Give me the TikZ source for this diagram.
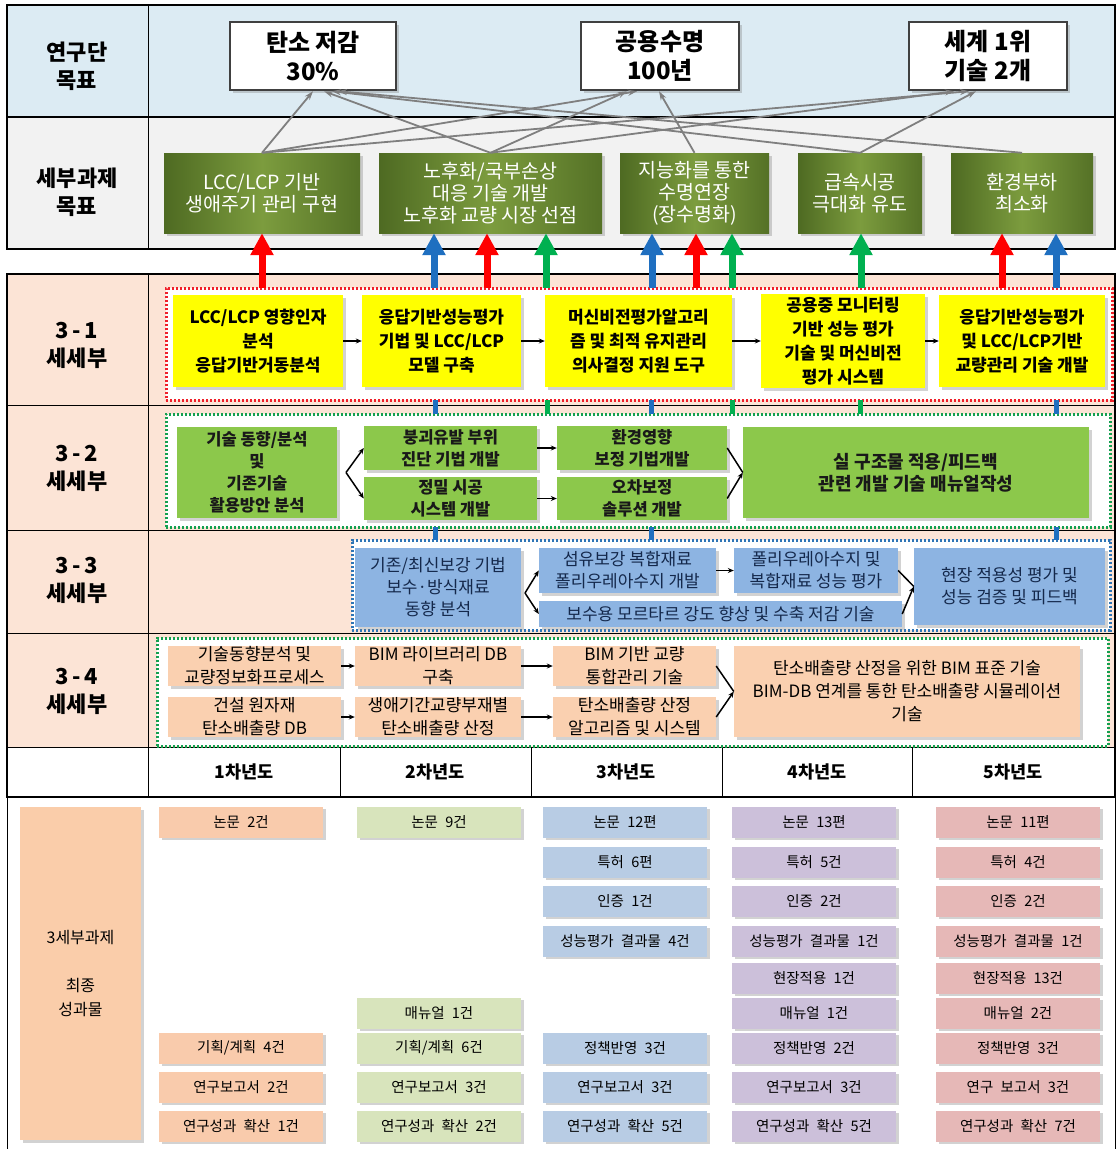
\documentclass[tikz,border=0pt]{standalone}
\usepackage{fontspec}
\setmainfont{Noto Sans CJK KR}
\usetikzlibrary{arrows.meta,shadows,calc}

\definecolor{rowblue}{HTML}{DCEBF3}
\definecolor{rowgray}{HTML}{F2F2F2}
\definecolor{rowpeach}{HTML}{FCE4D6}
\definecolor{olA}{HTML}{4E6A22}
\definecolor{olB}{HTML}{7C9C3E}
\definecolor{ylw}{HTML}{FFFF00}
\definecolor{grn32}{HTML}{8CC84B}
\definecolor{blu33}{HTML}{8DB4E2}
\definecolor{pch34}{HTML}{FAD0B0}
\definecolor{txt33}{HTML}{14284B}
\definecolor{frRed}{HTML}{F0202A}
\definecolor{frGreen}{HTML}{14A050}
\definecolor{frBlue}{HTML}{2E75B6}
\definecolor{arRed}{HTML}{FF0000}
\definecolor{arBlue}{HTML}{1F6FC0}
\definecolor{arGreen}{HTML}{00B050}
\definecolor{conGray}{HTML}{7F7F7F}
\definecolor{oc1}{HTML}{F9CBAC}
\definecolor{oc2}{HTML}{D8E4BC}
\definecolor{oc3}{HTML}{B8CCE4}
\definecolor{oc4}{HTML}{CCC0DA}
\definecolor{oc5}{HTML}{E6B8B7}
\definecolor{ocL}{HTML}{FACDAA}

\tikzset{
  shd/.style={drop shadow={shadow xshift=2.5pt,shadow yshift=-2.5pt,opacity=.35}},
  lbl/.style={font=\bfseries\fontsize{22}{28}\selectfont,align=center,inner sep=0pt},
  goalbox/.style={draw=black!75,line width=2.5pt,fill=white,align=center,inner sep=0pt,font=\bfseries\fontsize{24}{29}\selectfont,shd},
  subbox/.style={left color=olA,right color=olA!85!olB,middle color=olB,align=center,inner sep=0pt,text=white,font=\fontsize{19.5}{22}\selectfont,shd},
  ybox/.style={fill=ylw,align=center,inner sep=0pt,font=\bfseries\fontsize{17}{24}\selectfont,shd},
  gbox/.style={fill=grn32,align=center,inner sep=0pt,text=black!90,font=\bfseries\fontsize{16.5}{22}\selectfont,shd},
  bbox/.style={fill=blu33,align=center,inner sep=0pt,text=txt33,font=\fontsize{17}{22}\selectfont,shd},
  pbox/.style={fill=pch34,align=center,inner sep=0pt,text=black,font=\fontsize{17}{23}\selectfont,shd},
  obox/.style={minimum width=164pt,minimum height=31pt,inner sep=0pt,text=black,font=\fontsize{14.5}{16}\selectfont,shd},
  dotframe/.style={line width=3pt,dash pattern=on 2.4pt off 1.6pt,fill=white,inner sep=0pt,outer sep=0pt},
  bigar/.style={draw=#1,line width=7pt,-{Triangle[width=22pt,length=22pt]}},
  stub/.style={draw=#1,line width=5pt},
  garr/.style={draw=conGray,line width=1.8pt,-{Stealth[length=9pt,width=6pt]}},
  sarr/.style={draw=black,line width=1.5pt,-{Stealth[length=6pt,width=5pt]}},
  sln/.style={draw=black,line width=1.5pt},
  yl/.style={font=\bfseries\fontsize{17.5}{20}\selectfont,inner sep=0pt},
}

\begin{document}
\begin{tikzpicture}[x=1pt,y=-1pt]
\useasboundingbox (0,0) rectangle (1117,1149);
\fill[white] (0,0) rectangle (1117,1149);

% ---- table backgrounds and rules
\fill[rowblue] (7,5) rectangle (1115,117);
\fill[rowgray] (7,117) rectangle (1115,249);
\fill[rowpeach] (7,274) rectangle (1115,747);
\draw[line width=1.2pt] (7,5) rectangle (1115,249);
\draw[line width=1.2pt] (7,117) -- (1115,117);
\draw[line width=1pt] (148,5) -- (148,249);
\draw[line width=1.2pt] (7,274) rectangle (1115,797);
\foreach \yy in {405,530,633,747} \draw[line width=1pt] (7,\yy) -- (1115,\yy);
\draw[line width=1pt] (148,274) -- (148,797);
\foreach \xx in {340,531,722,912} \draw[line width=1pt] (\xx,747) -- (\xx,797);
\draw[line width=2.5pt] (7,797) -- (1115,797);
\draw[line width=1pt] (7,797) -- (7,1149);
\draw[line width=1pt] (1115,797) -- (1115,1149);

% ---- row labels
\node[lbl] (l1) at (77,66) {연구단\\목표};
\node[lbl] (l2) at (77,192) {세부과제\\목표};
\node[lbl] (l31) at (77,345) {3\,-\,1\\세세부};
\node[lbl] (l32) at (77,468) {3\,-\,2\\세세부};
\node[lbl] (l33) at (77,580) {3\,-\,3\\세세부};
\node[lbl] (l34) at (77,691) {3\,-\,4\\세세부};

% ---- goals
\node[goalbox,minimum width=166pt,minimum height=68pt] (G1) at (313,56) {탄소 저감\\30\%};
\node[goalbox,minimum width=158pt,minimum height=68pt] (G2) at (660,56) {공용수명\\100년};
\node[goalbox,minimum width=158pt,minimum height=68pt] (G3) at (988,56) {세계 1위\\기술 2개};

% ---- sub-task goals
\node[subbox,minimum width=196pt,minimum height=80pt] (B1) at (262,193) {LCC/LCP 기반\\생애주기 관리 구현};
\node[subbox,minimum width=223pt,minimum height=80pt] (B2) at (490.5,193) {노후화/국부손상\\대응 기술 개발\\노후화 교량 시장 선점};
\node[subbox,minimum width=149pt,minimum height=80pt] (B3) at (694.5,193) {지능화를 통한\\수명연장\\(장수명화)};
\node[subbox,minimum width=124pt,minimum height=80pt] (B4) at (860,193) {급속시공\\극대화 유도};
\node[subbox,minimum width=142pt,minimum height=80pt] (B5) at (1022,193) {환경부하\\최소화};

% ---- dotted frames
\node[dotframe,draw=frRed,minimum width=946pt,minimum height=112pt] (RF) at (639,344) {};
\node[dotframe,draw=frGreen,minimum width=944pt,minimum height=113pt] (GF1) at (638,470.5) {};
\node[dotframe,draw=frBlue,minimum width=758pt,minimum height=90pt] (BF) at (731,585) {};
\node[dotframe,draw=frGreen,minimum width=951pt,minimum height=108pt] (GF2) at (632.5,692) {};

% ---- 3-1
\node[ybox,minimum width=170pt,minimum height=92pt] (Y1) at (258,341) {LCC/LCP 영향인자\\분석\\응답기반거동분석};
\node[ybox,minimum width=159pt,minimum height=92pt] (Y2) at (441.5,341) {응답기반성능평가\\기법 및 LCC/LCP\\모델 구축};
\node[ybox,minimum width=187pt,minimum height=92pt] (Y3) at (638.5,341) {머신비전평가알고리\\즘 및 최적 유지관리\\의사결정 지원 도구};
\node[ybox,minimum width=164pt,minimum height=94pt] (Y4) at (843,341) {공용중 모니터링\\기반 성능 평가\\기술 및 머신비전\\평가 시스템};
\node[ybox,minimum width=166pt,minimum height=92pt] (Y5) at (1022,341) {응답기반성능평가\\및 LCC/LCP기반\\교량관리 기술 개발};

% ---- 3-2
\node[gbox,minimum width=160pt,minimum height=91pt] (L32) at (257,472.5) {기술 동향/분석\\및\\기존기술\\활용방안 분석};
\node[gbox,minimum width=173pt,minimum height=44pt] (A32) at (450.5,448) {붕괴유발 부위\\진단 기법 개발};
\node[gbox,minimum width=173pt,minimum height=43pt] (B32) at (450.5,498.5) {정밀 시공\\시스템 개발};
\node[gbox,minimum width=170pt,minimum height=44pt] (C32) at (642,448) {환경영향\\보정 기법개발};
\node[gbox,minimum width=170pt,minimum height=43pt] (D32) at (642,498.5) {오차보정\\솔루션 개발};
\node[gbox,minimum width=346pt,minimum height=91pt,font=\bfseries\fontsize{18}{22}\selectfont] (E32) at (916,472.5) {실 구조물 적용/피드백\\관련 개발 기술 매뉴얼작성};

% ---- 3-3
\node[bbox,minimum width=166pt,minimum height=79pt] (L33) at (438,587.5) {기존/최신보강 기법\\보수·방식재료\\동향 분석};
\node[bbox,minimum width=177pt,minimum height=45pt] (A33) at (627.5,570.5) {섬유보강 복합재료\\폴리우레아수지 개발};
\node[bbox,minimum width=164pt,minimum height=45pt] (B33) at (816,570.5) {폴리우레아수지 및\\복합재료 성능 평가};
\node[bbox,minimum width=363pt,minimum height=26pt] (C33) at (720.5,614) {보수용 모르타르 강도 향상 및 수축 저감 기술};
\node[bbox,minimum width=191pt,minimum height=77pt] (D33) at (1009.5,586.5) {현장 적용성 평가 및\\성능 검증 및 피드백};

% ---- 3-4
\node[pbox,minimum width=173pt,minimum height=40pt] (A34) at (254.5,666) {기술동향분석 및\\교량정보화프로세스};
\node[pbox,minimum width=173pt,minimum height=40pt] (B34) at (254.5,717) {건설 원자재\\탄소배출량 DB};
\node[pbox,minimum width=166pt,minimum height=40pt] (C34) at (438,666) {BIM 라이브러리 DB\\구축};
\node[pbox,minimum width=166pt,minimum height=40pt] (D34) at (438,717) {생애기간교량부재별\\탄소배출량 산정};
\node[pbox,minimum width=163pt,minimum height=40pt] (E34) at (634.5,666) {BIM 기반 교량\\통합관리 기술};
\node[pbox,minimum width=163pt,minimum height=40pt] (F34) at (634.5,717) {탄소배출량 산정\\알고리즘 및 시스템};
\node[pbox,minimum width=346pt,minimum height=91pt] (G34) at (907,691.5) {탄소배출량 산정을 위한 BIM 표준 기술\\BIM-DB 연계를 통한 탄소배출량 시뮬레이션\\기술};

% ---- year header
\node[yl] (yr1) at (244,772) {1차년도};
\node[yl] (yr2) at (435,772) {2차년도};
\node[yl] (yr3) at (626,772) {3차년도};
\node[yl] (yr4) at (817,772) {4차년도};
\node[yl] (yr5) at (1013,772) {5차년도};

% ---- outputs
\node[obox,fill=ocL,minimum width=121pt,minimum height=333pt,align=center,font=\fontsize{16}{24}\selectfont] (oL) at (80.5,973.5) {3세부과제\\[24pt]최종\\성과물};

\node[obox,fill=oc1] (o11) at (241,822) {논문\enspace 2건};
\node[obox,fill=oc1] (o17) at (241,1048) {기획/계획\enspace 4건};
\node[obox,fill=oc1] (o18) at (241,1087) {연구보고서\enspace 2건};
\node[obox,fill=oc1] (o19) at (241,1126) {연구성과\enspace 확산\enspace 1건};

\node[obox,fill=oc2] (o21) at (439,822) {논문\enspace 9건};
\node[obox,fill=oc2] (o26) at (439,1013) {매뉴얼\enspace 1건};
\node[obox,fill=oc2] (o27) at (439,1048) {기획/계획\enspace 6건};
\node[obox,fill=oc2] (o28) at (439,1087) {연구보고서\enspace 3건};
\node[obox,fill=oc2] (o29) at (439,1126) {연구성과\enspace 확산\enspace 2건};

\node[obox,fill=oc3] (o31) at (625,822) {논문\enspace 12편};
\node[obox,fill=oc3] (o32) at (625,862) {특허\enspace 6편};
\node[obox,fill=oc3] (o33) at (625,901) {인증\enspace 1건};
\node[obox,fill=oc3] (o34) at (625,941) {성능평가\enspace 결과물\enspace 4건};
\node[obox,fill=oc3] (o37) at (625,1048) {정책반영\enspace 3건};
\node[obox,fill=oc3] (o38) at (625,1087) {연구보고서\enspace 3건};
\node[obox,fill=oc3] (o39) at (625,1126) {연구성과\enspace 확산\enspace 5건};

\node[obox,fill=oc4] (o41) at (814,822) {논문\enspace 13편};
\node[obox,fill=oc4] (o42) at (814,862) {특허\enspace 5건};
\node[obox,fill=oc4] (o43) at (814,901) {인증\enspace 2건};
\node[obox,fill=oc4] (o44) at (814,941) {성능평가\enspace 결과물\enspace 1건};
\node[obox,fill=oc4] (o45) at (814,978) {현장적용\enspace 1건};
\node[obox,fill=oc4] (o46) at (814,1013) {매뉴얼\enspace 1건};
\node[obox,fill=oc4] (o47) at (814,1048) {정책반영\enspace 2건};
\node[obox,fill=oc4] (o48) at (814,1087) {연구보고서\enspace 3건};
\node[obox,fill=oc4] (o49) at (814,1126) {연구성과\enspace 확산\enspace 5건};

\node[obox,fill=oc5] (o51) at (1018,822) {논문\enspace 11편};
\node[obox,fill=oc5] (o52) at (1018,862) {특허\enspace 4건};
\node[obox,fill=oc5] (o53) at (1018,901) {인증\enspace 2건};
\node[obox,fill=oc5] (o54) at (1018,941) {성능평가\enspace 결과물\enspace 1건};
\node[obox,fill=oc5] (o55) at (1018,978) {현장적용\enspace 13건};
\node[obox,fill=oc5] (o56) at (1018,1013) {매뉴얼\enspace 2건};
\node[obox,fill=oc5] (o57) at (1018,1048) {정책반영\enspace 3건};
\node[obox,fill=oc5] (o58) at (1018,1087) {연구\enspace 보고서\enspace 3건};
\node[obox,fill=oc5] (o59) at (1018,1126) {연구성과\enspace 확산\enspace 7건};

% ---- gray goal connectors
\draw[garr] (B1.north) -- (G1.south -| 313,0);
\draw[garr] (B2.north) -- (G1.south -| 324,0);
\draw[garr] (B4.north) -- (G1.south -| 332,0);
\draw[garr] (B5.north) -- (G1.south -| 338,0);
\draw[garr] (B1.north) -- (G2.south -| 637,0);
\draw[garr] (B2.north) -- (G2.south -| 627,0);
\draw[garr] (B3.north) -- (G2.south -| 659,0);
\draw[garr] (B1.north) -- (G3.south -| 969,0);
\draw[garr] (B2.north) -- (G3.south -| 954,0);
\draw[garr] (B4.north) -- (G3.south -| 976,0);

% ---- big coloured arrows
\draw[bigar=arRed]   (RF.north -| 262,0)  -- (B1.south -| 262,0);
\draw[bigar=arBlue]  (RF.north -| 434,0)  -- (B2.south -| 434,0);
\draw[bigar=arRed]   (RF.north -| 487,0)  -- (B2.south -| 487,0);
\draw[bigar=arGreen] (RF.north -| 546,0)  -- (B2.south -| 546,0);
\draw[bigar=arBlue]  (RF.north -| 652,0)  -- (B3.south -| 652,0);
\draw[bigar=arRed]   (RF.north -| 696,0)  -- (B3.south -| 696,0);
\draw[bigar=arGreen] (RF.north -| 732,0)  -- (B3.south -| 732,0);
\draw[bigar=arGreen] (RF.north -| 861,0)  -- (B4.south -| 861,0);
\draw[bigar=arRed]   (RF.north -| 1002,0) -- (B5.south -| 1002,0);
\draw[bigar=arBlue]  (RF.north -| 1056,0) -- (B5.south -| 1056,0);

% ---- stubs between frames
\draw[stub=arBlue]  (GF1.north -| 435,0)  -- (RF.south -| 435,0);
\draw[stub=arGreen] (GF1.north -| 547,0)  -- (RF.south -| 547,0);
\draw[stub=arBlue]  (GF1.north -| 651,0)  -- (RF.south -| 651,0);
\draw[stub=arGreen] (GF1.north -| 732,0)  -- (RF.south -| 732,0);
\draw[stub=arGreen] (GF1.north -| 860,0)  -- (RF.south -| 860,0);
\draw[stub=arBlue]  (GF1.north -| 1056,0) -- (RF.south -| 1056,0);
\draw[stub=arBlue]  (BF.north -| 435,0)   -- (GF1.south -| 435,0);
\draw[stub=arBlue]  (BF.north -| 651,0)   -- (GF1.south -| 651,0);
\draw[stub=arBlue]  (BF.north -| 1056,0)  -- (GF1.south -| 1056,0);

% ---- flow arrows 3-1
\draw[sarr] (Y1.east) -- (Y2.west);
\draw[sarr] (Y2.east) -- (Y3.west);
\draw[sarr] (Y3.east) -- (Y4.west);
\draw[sarr] (Y4.east) -- (Y5.west);

% ---- flow arrows 3-2
\coordinate (s32) at (346,472.5);
\draw[sarr] (s32) -- (A32.west);
\draw[sarr] (s32) -- (B32.west);
\draw[sarr] (A32.east) -- (C32.west);
\draw[sarr] (B32.east) -- (D32.west);
\draw[sln] (C32.east) -- (E32.west);
\draw[sarr] (D32.east) -- (E32.west);

% ---- flow arrows 3-3
\coordinate (s33) at (525,593);
\draw[sarr] (s33) -- (A33.west);
\draw[sarr] (s33) -- (C33.west);
\draw[sarr] (A33.east) -- (B33.west);
\draw[sln] (B33.east) -- (D33.west);
\draw[sarr] (C33.east) -- (D33.west);

% ---- flow arrows 3-4
\draw[sarr] (A34.east) -- (C34.west);
\draw[sarr] (B34.east) -- (D34.west);
\draw[sarr] (C34.east) -- (E34.west);
\draw[sarr] (D34.east) -- (F34.west);
\draw[sln] (E34.east) -- (G34.west);
\draw[sarr] (F34.east) -- (G34.west);
\end{tikzpicture}
\end{document}
